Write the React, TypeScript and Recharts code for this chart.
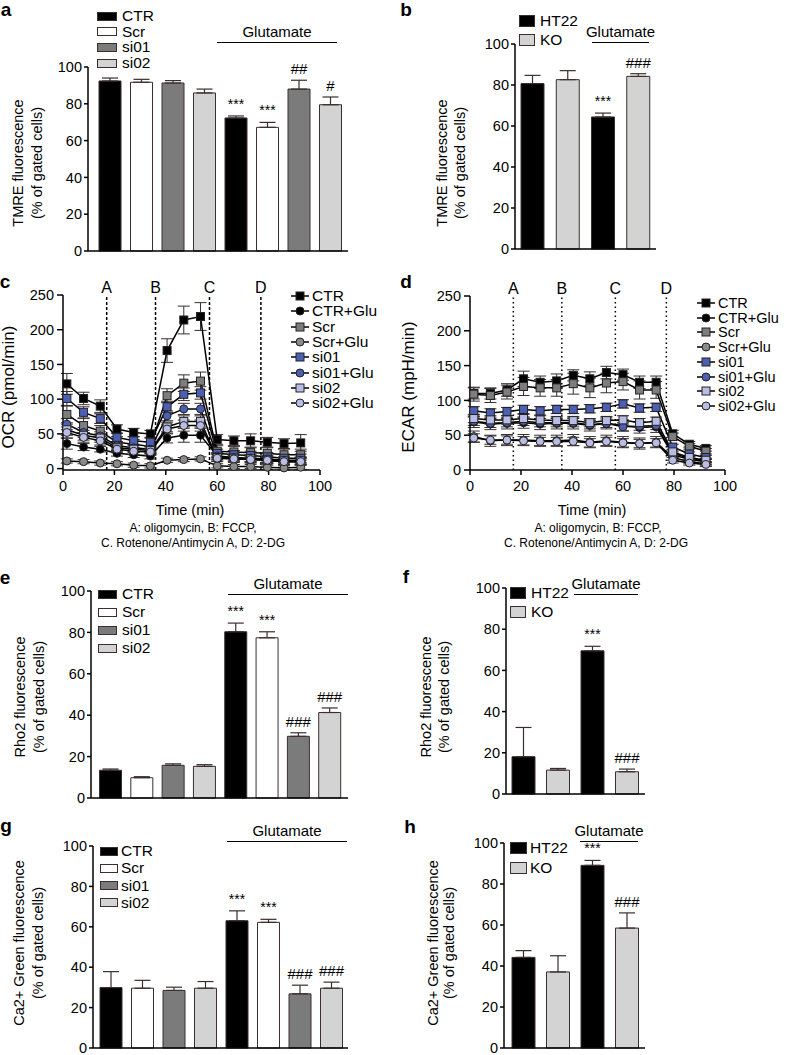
import React from 'react';
import {
  BarChart,
  Bar,
  Cell,
  XAxis,
  YAxis,
  ErrorBar,
  LabelList,
  LineChart,
  Line,
  ReferenceLine,
} from 'recharts';

const FONT = '"Liberation Sans", Arial, Helvetica, sans-serif';
const EDGE = '#3a2e2e';

// bar groups
const siGroups = ['CTR', 'Scr', 'si01', 'si02', 'CTR+Glu', 'Scr+Glu', 'si01+Glu', 'si02+Glu'];
const siFills = ['#000000', '#ffffff', '#7b7b7b', '#d3d3d3', '#000000', '#ffffff', '#7b7b7b', '#d3d3d3'];
const siLegend = ['CTR', 'Scr', 'si01', 'si02'];
const koGroups = ['HT22', 'KO', 'HT22+Glu', 'KO+Glu'];
const koFills = ['#000000', '#d3d3d3', '#000000', '#d3d3d3'];
const koLegend = ['HT22', 'KO'];
const pctTicks = [0, 20, 40, 60, 80, 100];

// a: TMRE, siRNA
const tmreSi = [92.4, 91.7, 91.3, 85.9, 72.3, 67.2, 88, 79.5];
const tmreSiErr = [1.6, 1.6, 1.3, 2.1, 1.1, 2.7, 4.8, 4.2];
const tmreSiMarks = ['', '', '', '', '***', '***', '##', '#'];

// b: TMRE, KO
const tmreKo = [80.7, 82.6, 64.4, 84.2];
const tmreKoErr = [4.0, 4.4, 1.9, 1.3];
const tmreKoMarks = ['', '', '***', '###'];

// e: Rho2, siRNA
const rho2Si = [13.4, 9.8, 15.8, 15.3, 80.3, 77.4, 29.8, 41.3];
const rho2SiErr = [0.6, 0.5, 0.7, 0.8, 4.2, 2.9, 1.7, 2.2];
const rho2SiMarks = ['', '', '', '', '***', '***', '###', '###'];

// f: Rho2, KO
const rho2Ko = [18.1, 11.6, 69.5, 10.8];
const rho2KoErr = [14.2, 0.8, 2.2, 1.3];
const rho2KoMarks = ['', '', '***', '###'];

// g: Ca2+ Green, siRNA
const caSi = [29.9, 29.6, 28.5, 29.6, 63, 62.2, 26.8, 29.6];
const caSiErr = [7.9, 3.9, 1.6, 3.3, 4.9, 1.5, 4.3, 3.0];
const caSiMarks = ['', '', '', '', '***', '***', '###', '###'];

// h: Ca2+ Green, KO
const caKo = [44.2, 37.1, 89.1, 58.5];
const caKoErr = [3.3, 7.9, 2.4, 7.4];
const caKoMarks = ['', '', '***', '###'];

// c / d: seahorse time course
const seahorseTime = [1.5, 8, 14.5, 21, 27.5, 34, 40.5, 47, 53.5, 60, 66.5, 73, 79.5, 86, 92.5];
const drugTimes = [17, 36, 57, 77];
const drugLabels = ['A', 'B', 'C', 'D'];
const seriesNames = ['CTR', 'CTR+Glu', 'Scr', 'Scr+Glu', 'si01', 'si01+Glu', 'si02', 'si02+Glu'];
const seriesFills = ['#000000', '#000000', '#7d7d7d', '#8a8a8a', '#4b5fb4', '#4b5fb4', '#b9bde3', '#b9bde3'];
const seriesShapes = ['square', 'circle', 'square', 'circle', 'square', 'circle', 'square', 'circle'];

const ocrCTR = [122, 101, 90, 57, 52, 50, 170, 214, 219, 42, 40, 40, 38, 36, 37];
const ocrCTRErr = [15, 9, 9, 6, 6, 5, 17, 20, 20, 7, 7, 10, 7, 7, 12];
const ocrCTRGlu = [36, 31, 28, 22, 20, 18, 44, 48, 48, 18, 15, 14, 12, 10, 10];
const ocrCTRGluErr = [8, 5, 4, 4, 4, 4, 7, 10, 10, 4, 4, 4, 4, 4, 4];
const ocrScr = [78, 62, 54, 38, 35, 32, 105, 123, 126, 25, 24, 23, 22, 20, 20];
const ocrScrErr = [12, 10, 8, 8, 7, 7, 10, 12, 13, 8, 8, 8, 8, 8, 8];
const ocrScrGlu = [11, 10, 8, 7, 5, 4, 12, 13, 14, 4, 3, 3, 2, 1, 2];
const ocrScrGluErr = [3, 3, 3, 3, 3, 3, 3, 3, 3, 3, 3, 3, 3, 3, 3];
const ocrSi01 = [101, 81, 72, 45, 40, 38, 89, 107, 109, 22, 20, 19, 17, 15, 15];
const ocrSi01Err = [10, 8, 7, 6, 6, 6, 8, 9, 9, 6, 6, 6, 6, 6, 6];
const ocrSi01Glu = [64, 52, 47, 33, 30, 28, 76, 86, 86, 18, 16, 15, 14, 12, 12];
const ocrSi01GluErr = [8, 7, 6, 5, 5, 5, 7, 8, 8, 5, 5, 5, 5, 5, 5];
const ocrSi02 = [56, 48, 44, 30, 28, 26, 60, 68, 68, 16, 15, 14, 12, 11, 11];
const ocrSi02Err = [8, 7, 6, 5, 5, 5, 7, 8, 8, 5, 5, 5, 5, 5, 5];
const ocrSi02Glu = [52, 45, 40, 28, 25, 24, 57, 62, 62, 15, 14, 13, 12, 10, 10];
const ocrSi02GluErr = [8, 7, 6, 5, 5, 5, 7, 8, 8, 5, 5, 5, 5, 5, 5];

const ecarCTR = [110, 110, 115, 131, 126, 128, 136, 131, 140, 137, 126, 126, 52, 37, 31];
const ecarCTRErr = [8, 8, 9, 11, 9, 10, 8, 10, 9, 8, 9, 9, 5, 4, 4];
const ecarCTRGlu = [69, 66, 67, 68, 66, 67, 67, 64, 67, 64, 61, 62, 22, 15, 12];
const ecarCTRGluErr = [8, 8, 8, 8, 8, 8, 8, 8, 8, 8, 8, 8, 4, 4, 4];
const ecarScr = [109, 107, 112, 120, 118, 118, 124, 118, 125, 127, 115, 115, 48, 34, 27];
const ecarScrErr = [10, 10, 10, 13, 12, 12, 15, 14, 14, 12, 13, 12, 5, 4, 4];
const ecarScrGlu = [48, 42, 43, 43, 42, 42, 43, 40, 42, 40, 38, 40, 18, 12, 9];
const ecarScrGluErr = [8, 8, 8, 8, 8, 8, 8, 8, 8, 8, 8, 8, 4, 3, 3];
const ecarSi01 = [85, 82, 84, 87, 85, 87, 87, 88, 90, 95, 89, 90, 33, 23, 18];
const ecarSi01Err = [6, 6, 6, 6, 6, 6, 6, 6, 6, 6, 6, 6, 4, 3, 3];
const ecarSi01Glu = [70, 67, 68, 70, 68, 68, 68, 65, 67, 62, 63, 64, 25, 16, 13];
const ecarSi01GluErr = [6, 6, 6, 6, 6, 6, 6, 6, 6, 6, 6, 6, 4, 3, 3];
const ecarSi02 = [74, 72, 72, 74, 72, 71, 71, 68, 71, 72, 68, 70, 26, 18, 14];
const ecarSi02Err = [6, 6, 6, 6, 6, 6, 6, 6, 6, 6, 6, 6, 4, 3, 3];
const ecarSi02Glu = [46, 43, 43, 42, 41, 41, 41, 39, 41, 39, 38, 39, 14, 10, 8];
const ecarSi02GluErr = [6, 6, 6, 6, 6, 6, 6, 6, 6, 6, 6, 6, 4, 3, 3];

const ocrSeries = [ocrCTR, ocrCTRGlu, ocrScr, ocrScrGlu, ocrSi01, ocrSi01Glu, ocrSi02, ocrSi02Glu];
const ocrErrs = [ocrCTRErr, ocrCTRGluErr, ocrScrErr, ocrScrGluErr, ocrSi01Err, ocrSi01GluErr, ocrSi02Err, ocrSi02GluErr];
const ecarSeries = [ecarCTR, ecarCTRGlu, ecarScr, ecarScrGlu, ecarSi01, ecarSi01Glu, ecarSi02, ecarSi02Glu];
const ecarErrs = [ecarCTRErr, ecarCTRGluErr, ecarScrErr, ecarScrGluErr, ecarSi01Err, ecarSi01GluErr, ecarSi02Err, ecarSi02GluErr];

function Txt({ x, y, size = 15, bold = false, anchor = 'middle', lh = 1, children }: any) {
  return (
    <div
      style={{
        position: 'absolute',
        left: x,
        top: y,
        transform: anchor === 'middle' ? 'translate(-50%,-50%)' : 'translate(0,-50%)',
        fontSize: size,
        fontWeight: bold ? 700 : 400,
        whiteSpace: 'nowrap',
        lineHeight: lh,
      }}
    >
      {children}
    </div>
  );
}

function VTxt({ x, y, size = 14.5, children }: any) {
  return (
    <div
      style={{
        position: 'absolute',
        left: x,
        top: y,
        transform: 'translate(-50%,-50%) rotate(-90deg)',
        fontSize: size,
        whiteSpace: 'nowrap',
        lineHeight: 1,
      }}
    >
      {children}
    </div>
  );
}

function Glutamate({ x1, x2, y }: any) {
  return (
    <>
      <div style={{ position: 'absolute', left: x1, top: y, width: x2 - x1, borderTop: '1.5px solid #000' }} />
      <Txt x={(x1 + x2) / 2} y={y - 11}>Glutamate</Txt>
    </>
  );
}

function BarLegend({ labels, fills, x, y, step, w, h, tx }: any) {
  return (
    <>
      {labels.map((l: string, i: number) => (
        <React.Fragment key={l}>
          <div
            style={{
              position: 'absolute',
              left: x,
              top: y + i * step - h / 2,
              width: w,
              height: h,
              boxSizing: 'border-box',
              background: fills[i],
              border: `1px solid ${EDGE}`,
            }}
          />
          <Txt x={tx} y={y + i * step} size={15.5} anchor="start" lh={0.9}>{l}</Txt>
        </React.Fragment>
      ))}
    </>
  );
}

function BarPanel({ groups, values, errs, marks, fills, x0, x1, yTop, yBottom, padL, padR, barSize }: any) {
  const data = groups.map((g: string, i: number) => ({ name: g, value: values[i], err: [0, errs[i]], mark: marks[i] }));
  const yAxisW = 50;
  const left = x0 - yAxisW;
  const top = yTop - 12;
  const width = x1 - left;
  const height = yBottom - top + 12;
  const renderMark = (p: any) => {
    const { x, y, width: bw, height: bh, index, value } = p;
    if (!value) return null;
    const errTop = y - errs[index] * (bh / values[index]);
    const star = String(value).startsWith('*');
    return (
      <text
        key={`m${index}`}
        x={x + bw / 2}
        y={errTop - (star ? 7 : 6)}
        textAnchor="middle"
        fontSize={star ? 14 : 15}
        fontFamily={FONT}
        fill="#000"
      >
        {value}
      </text>
    );
  };
  return (
    <div style={{ position: 'absolute', left, top }}>
      <BarChart width={width} height={height} data={data} margin={{ top: 12, right: 0, bottom: 0, left: 0 }}>
        <XAxis
          dataKey="name"
          tick={false}
          tickLine={false}
          height={12}
          axisLine={{ stroke: '#000', strokeWidth: 1.5 }}
          padding={{ left: padL, right: padR }}
        />
        <YAxis
          width={yAxisW}
          domain={[0, 100]}
          ticks={pctTicks}
          interval={0}
          tickSize={4}
          tickMargin={2}
          axisLine={{ stroke: '#000', strokeWidth: 1.5 }}
          tickLine={{ stroke: '#000', strokeWidth: 1.5 }}
          tick={{ fill: '#000', fontSize: 14.5, fontFamily: FONT }}
        />
        <Bar dataKey="value" barSize={barSize} isAnimationActive={false} stroke={EDGE} strokeWidth={1}>
          {data.map((_: any, i: number) => (
            <Cell key={i} fill={fills[i]} />
          ))}
          <ErrorBar dataKey="err" width={8} stroke={EDGE} strokeWidth={1.2} />
          <LabelList dataKey="mark" content={renderMark} />
        </Bar>
      </BarChart>
    </div>
  );
}

const squareDot = (fill: string, s: number) => (p: any) => {
  if (p.cx == null || p.cy == null) return <g key={`n${p.index}`} />;
  return (
    <rect key={`d${p.index}`} x={p.cx - s / 2} y={p.cy - s / 2} width={s} height={s} fill={fill} stroke="#222" strokeWidth={1} />
  );
};
const circleDot = (fill: string, r: number) => (p: any) => {
  if (p.cx == null || p.cy == null) return <g key={`n${p.index}`} />;
  return <circle key={`d${p.index}`} cx={p.cx} cy={p.cy} r={r} fill={fill} stroke="#222" strokeWidth={1} />;
};

function LinePanel({ series, errs, left, top, yAxisW, plotRight, marginTop, dash }: any) {
  const rows = seahorseTime.map((t, i) => {
    const r: any = { t };
    series.forEach((s: number[], k: number) => {
      r[`s${k}`] = s[i];
      r[`e${k}`] = errs[k][i];
    });
    return r;
  });
  const width = plotRight - left + 16;
  const height = 470 - top + 30;
  return (
    <div style={{ position: 'absolute', left, top }}>
      <LineChart width={width} height={height} data={rows} margin={{ top: marginTop, right: 16, bottom: 0, left: 0 }}>
        <XAxis
          type="number"
          dataKey="t"
          domain={[0, 100]}
          ticks={[0, 20, 40, 60, 80, 100]}
          interval={0}
          height={30}
          tickSize={5}
          tickMargin={6}
          axisLine={{ stroke: '#000', strokeWidth: 1.5 }}
          tickLine={{ stroke: '#000', strokeWidth: 1.5 }}
          tick={{ fill: '#000', fontSize: 14.5, fontFamily: FONT }}
        />
        <YAxis
          width={yAxisW}
          domain={[0, 250]}
          ticks={[0, 50, 100, 150, 200, 250]}
          interval={0}
          tickSize={6}
          tickMargin={3}
          axisLine={{ stroke: '#000', strokeWidth: 1.5 }}
          tickLine={{ stroke: '#000', strokeWidth: 1.5 }}
          tick={{ fill: '#000', fontSize: 14.5, fontFamily: FONT }}
        />
        {drugTimes.map((d, i) => (
          <ReferenceLine
            key={drugLabels[i]}
            x={d}
            stroke="#000"
            strokeWidth={1.5}
            strokeDasharray={dash}
            label={{ value: drugLabels[i], position: 'top', offset: 2, fontSize: 16, fill: '#000', fontFamily: FONT }}
          />
        ))}
        {series.map((_: any, k: number) => (
          <Line
            key={seriesNames[k]}
            dataKey={`s${k}`}
            type="linear"
            stroke="#000"
            strokeWidth={1.5}
            isAnimationActive={false}
            activeDot={false}
            dot={seriesShapes[k] === 'square' ? squareDot(seriesFills[k], 8) : circleDot(seriesFills[k], 4)}
          >
            <ErrorBar dataKey={`e${k}`} width={6} stroke={EDGE} strokeWidth={1} />
          </Line>
        ))}
      </LineChart>
    </div>
  );
}

function LineLegend({ x, y, step, size }: any) {
  return (
    <>
      {seriesNames.map((n, k) => (
        <React.Fragment key={n}>
          <svg style={{ position: 'absolute', left: x, top: y + k * step - 6 }} width={18} height={12}>
            <line x1={0} y1={6} x2={18} y2={6} stroke="#000" strokeWidth={1.5} />
            {seriesShapes[k] === 'square' ? (
              <rect x={5} y={2} width={8} height={8} fill={seriesFills[k]} stroke="#222" strokeWidth={1} />
            ) : (
              <circle cx={9} cy={6} r={4} fill={seriesFills[k]} stroke="#222" strokeWidth={1} />
            )}
          </svg>
          <Txt x={x + 21} y={y + k * step} size={size} anchor="start" lh={0.85}>{n}</Txt>
        </React.Fragment>
      ))}
    </>
  );
}

export default function App() {
  return (
    <div
      style={{
        position: 'absolute',
        left: 0,
        top: 0,
        width: 787,
        height: 1055,
        background: '#fff',
        fontFamily: FONT,
        color: '#000',
        overflow: 'hidden',
      }}
    >
      {/* a */}
      <Txt x={6} y={9} size={19} bold>a</Txt>
      <BarPanel groups={siGroups} values={tmreSi} errs={tmreSiErr} marks={tmreSiMarks} fills={siFills}
        x0={88} x1={348} yTop={67} yBottom={251} padL={6} padR={2} barSize={22} />
      <BarLegend labels={siLegend} fills={siFills} x={97} y={16} step={15.7} w={20} h={9} tx={122} />
      <Glutamate x1={217} x2={337} y={42} />
      <VTxt x={18} y={163}>TMRE fluorescence</VTxt>
      <VTxt x={37} y={163}>(% of gated cells)</VTxt>

      {/* b */}
      <Txt x={406} y={9} size={19} bold>b</Txt>
      <BarPanel groups={koGroups} values={tmreKo} errs={tmreKoErr} marks={tmreKoMarks} fills={koFills}
        x0={515} x1={656} yTop={44} yBottom={249} padL={0} padR={0} barSize={23} />
      <BarLegend labels={koLegend} fills={koFills} x={519} y={21} step={18.6} w={16} h={12} tx={540} />
      <Glutamate x1={592} x2={649} y={42} />
      <VTxt x={442} y={163}>TMRE fluorescence</VTxt>
      <VTxt x={460} y={163}>(% of gated cells)</VTxt>

      {/* c */}
      <Txt x={5} y={281} size={19} bold>c</Txt>
      <LinePanel series={ocrSeries} errs={ocrErrs} left={0} top={278} yAxisW={63} plotRight={320} marginTop={17} dash="3 2" />
      <LineLegend x={291} y={296} step={15.3} size={15.5} />
      <VTxt x={8} y={387} size={17}>OCR (pmol/min)</VTxt>
      <Txt x={190} y={510} size={14.5}>Time (min)</Txt>
      <Txt x={193} y={528} size={12}>A: oligomycin, B: FCCP,</Txt>
      <Txt x={193} y={543} size={12}>C. Rotenone/Antimycin A, D: 2-DG</Txt>

      {/* d */}
      <Txt x={406} y={281} size={19} bold>d</Txt>
      <LinePanel series={ecarSeries} errs={ecarErrs} left={400} top={278} yAxisW={70} plotRight={725} marginTop={18} dash="1.5 3" />
      <LineLegend x={697} y={303} step={14.7} size={14.5} />
      <VTxt x={408} y={387} size={17}>ECAR (mpH/min)</VTxt>
      <Txt x={592} y={510} size={14.5}>Time (min)</Txt>
      <Txt x={598} y={528} size={12}>A: oligomycin, B: FCCP,</Txt>
      <Txt x={596} y={543} size={12}>C. Rotenone/Antimycin A, D: 2-DG</Txt>

      {/* e */}
      <Txt x={5} y={577} size={19} bold>e</Txt>
      <BarPanel groups={siGroups} values={rho2Si} errs={rho2SiErr} marks={rho2SiMarks} fills={siFills}
        x0={91} x1={348} yTop={591} yBottom={798} padL={3.5} padR={3} barSize={22} />
      <BarLegend labels={siLegend} fills={siFills} x={98} y={594} step={18} w={19} h={9} tx={122} />
      <Glutamate x1={228} x2={348} y={594} />
      <VTxt x={20} y={697}>Rho2 fluorescence</VTxt>
      <VTxt x={39} y={697}>(% of gated cells)</VTxt>

      {/* f */}
      <Txt x={406} y={576} size={19} bold>f</Txt>
      <BarPanel groups={koGroups} values={rho2Ko} errs={rho2KoErr} marks={rho2KoMarks} fills={koFills}
        x0={506} x1={645} yTop={588} yBottom={794} padL={0} padR={1} barSize={23} />
      <BarLegend labels={koLegend} fills={koFills} x={510} y={593} step={19} w={16} h={12} tx={531} />
      <Glutamate x1={574} x2={638} y={594} />
      <VTxt x={426} y={697}>Rho2 fluorescence</VTxt>
      <VTxt x={444} y={697}>(% of gated cells)</VTxt>

      {/* g */}
      <Txt x={6} y={825} size={19} bold>g</Txt>
      <BarPanel groups={siGroups} values={caSi} errs={caSiErr} marks={caSiMarks} fills={siFills}
        x0={93} x1={348} yTop={846} yBottom={1048} padL={2} padR={1} barSize={22} />
      <BarLegend labels={siLegend} fills={siFills} x={100} y={851} step={17.3} w={18} h={9} tx={121} />
      <Glutamate x1={227} x2={347} y={841} />
      <VTxt x={19} y={943}>Ca2+ Green fluorescence</VTxt>
      <VTxt x={38} y={943}>(% of gated cells)</VTxt>

      {/* h */}
      <Txt x={410} y={826} size={19} bold>h</Txt>
      <BarPanel groups={koGroups} values={caKo} errs={caKoErr} marks={caKoMarks} fills={koFills}
        x0={504} x1={645} yTop={843} yBottom={1048} padL={2} padR={1} barSize={23} />
      <BarLegend labels={koLegend} fills={koFills} x={510} y={848} step={20} w={17} h={12} tx={530} />
      <Glutamate x1={580} x2={638} y={841} />
      <VTxt x={433} y={943}>Ca2+ Green fluorescence</VTxt>
      <VTxt x={449} y={943}>(% of gated cells)</VTxt>
    </div>
  );
}
